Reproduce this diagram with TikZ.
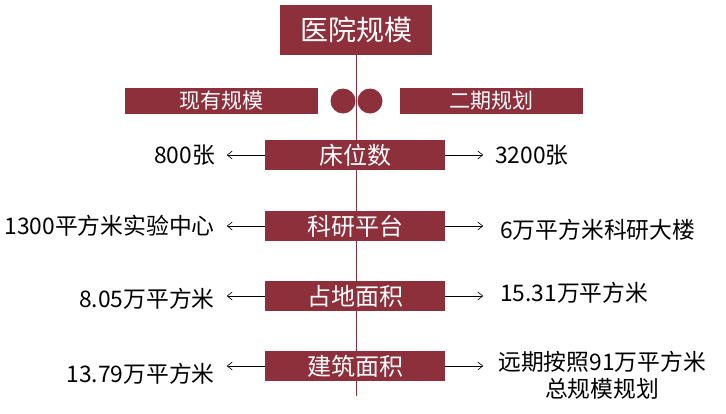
\documentclass[tikz,border=0pt]{standalone}
\usepackage{fontspec}
\setmainfont{Noto Sans CJK SC}
\usetikzlibrary{arrows.meta,positioning}
\definecolor{maroon}{HTML}{8E2F3C}
\begin{document}
\begin{tikzpicture}[x=1pt,y=-1pt,
    bar/.style={fill=maroon, text=white, inner sep=0pt, font=\fontsize{21}{23}\selectfont},
    rowbar/.style={bar, minimum width=180, minimum height=30, font=\fontsize{24}{26}\selectfont},
    lbl/.style={inner sep=0pt, font=\fontsize{22.8}{27}\selectfont},
    arr/.style={-{Straight Barb[length=5pt,width=8pt]}, line width=0.6pt}]
  \useasboundingbox (0,0) rectangle (726,413);
  % Title and axis
  \node[bar, minimum width=152, minimum height=50, font=\fontsize{28}{30}\selectfont] (title) at (356,30) {医院规模};
  \coordinate (bottom) at (356,396);
  \draw[line width=1pt, maroon] (title.south) -- (bottom);
  \node[circle, fill=maroon, minimum size=25, inner sep=0pt] (c1) at (343,101) {};
  \node[circle, fill=maroon, minimum size=25, inner sep=0pt] (c2) at (370,101) {};
  \node[bar, minimum width=193, minimum height=26] (now) at (221.5,101) {现有规模};
  \node[bar, minimum width=183, minimum height=26] (plan) at (491.5,101) {二期规划};
  % Rows
  \node[rowbar] (beds) at (355,155) {床位数};
  \node[rowbar] (lab) at (355,226) {科研平台};
  \node[rowbar] (land) at (355,296) {占地面积};
  \node[rowbar] (build) at (355,366) {建筑面积};
  \node[lbl, anchor=east] (bedsL) at (215,155) {800张};
  \node[lbl, anchor=west] (bedsR) at (495,155) {3200张};
  \node[lbl, anchor=east] (labL) at (215,226) {1300平方米实验中心};
  \node[lbl, anchor=west] (labR) at (500,230) {6万平方米科研大楼};
  \node[lbl, anchor=east] (landL) at (215,299) {8.05万平方米};
  \node[lbl, anchor=west] (landR) at (500,293) {15.31万平方米};
  \node[lbl, anchor=east] (buildL) at (215,374) {13.79万平方米};
  \node[lbl, align=center, anchor=west] (buildR) at (498,375) {远期按照91万平方米\\总规模规划};
  \foreach \b/\l/\r in {beds/bedsL/bedsR, lab/labL/labR, land/landL/landR, build/buildL/buildR} {
    \draw[arr] (\b.west) -- ([xshift=-38]\b.west);
    \draw[arr] (\b.east) -- ([xshift=38]\b.east);
  }
\end{tikzpicture}
\end{document}
